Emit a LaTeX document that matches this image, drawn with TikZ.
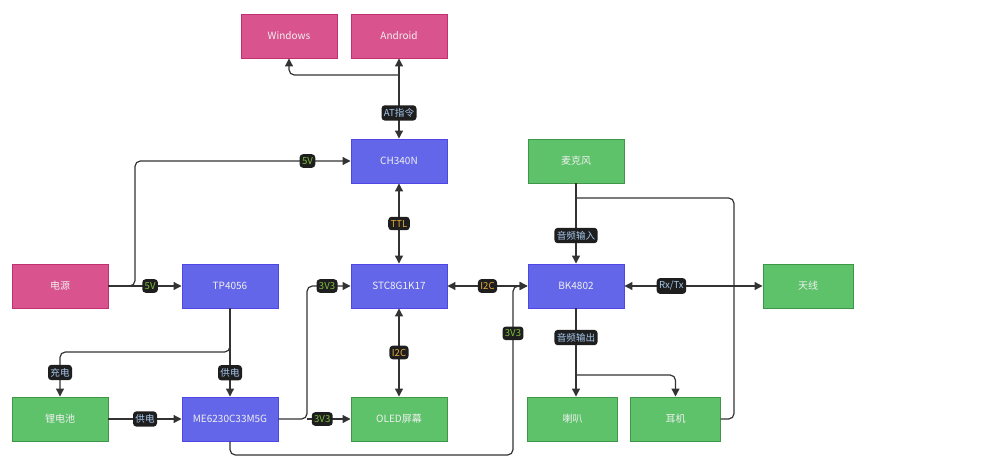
\documentclass[tikz,border=0pt]{standalone}
\usepackage{fontspec}
\setmainfont{Noto Sans CJK SC}
\usepackage{tikz}
\usetikzlibrary{arrows.meta,calc}

\definecolor{pinkfill}{HTML}{D9548F}
\definecolor{pinkline}{HTML}{C2306F}
\definecolor{bluefill}{HTML}{6366E8}
\definecolor{blueline}{HTML}{4F46E5}
\definecolor{greenfill}{HTML}{5DC26A}
\definecolor{greenline}{HTML}{3E9648}
\definecolor{wirecol}{HTML}{333333}
\definecolor{tagfill}{HTML}{1E1E1E}
\definecolor{tagblue}{HTML}{A8C8EE}
\definecolor{taggreen}{HTML}{7FBF3F}
\definecolor{tagyellow}{HTML}{E5A93B}

\begin{document}
\begin{tikzpicture}[x=0.75pt,y=-0.75pt,
    block/.style={draw,line width=0.7pt,minimum width=72pt,minimum height=33pt,
        text=white!94!black,font=\fontsize{7.5}{9}\selectfont,inner sep=0pt},
    pinkbox/.style={block,fill=pinkfill,draw=pinkline},
    bluebox/.style={block,fill=bluefill,draw=blueline},
    greenbox/.style={block,fill=greenfill,draw=greenline},
    narrowbox/.style={minimum width=67pt},
    wire/.style={draw=wirecol,line width=0.9pt,rounded corners=4pt},
    fwd/.style={wire,-{Triangle[length=6pt,width=6pt]}},
    both/.style={wire,{Triangle[length=6pt,width=6pt]}-{Triangle[length=6pt,width=6pt]}},
    tag/.style={fill=tagfill,rounded corners=2.5pt,inner xsep=1.8pt,inner ysep=2.4pt,
        font=\fontsize{7.2}{8}\selectfont,text=tagblue},
    volt/.style={tag,text=taggreen},
    bus/.style={tag,text=tagyellow}]
    \useasboundingbox (0,0) rectangle (999,468);

    % top row
    \node[pinkbox] (win) at (289,36) {Windows};
    \node[pinkbox] (android) at (399,36) {Android};
    \node[bluebox] (ch340) at (399,161) {CH340N};
    \node[greenbox] (mic) at (576,161) {麦克风};
    % middle row
    \node[pinkbox] (power) at (60,286) {电源};
    \node[bluebox] (charger) at (230,286) {TP4056};
    \node[bluebox] (mcu) at (399,286) {STC8G1K17};
    \node[bluebox] (radio) at (576,286) {BK4802};
    \node[greenbox,minimum width=67.5pt] (antenna) at (808,286) {天线};
    % bottom row
    \node[greenbox] (battery) at (60,419) {锂电池};
    \node[bluebox] (ldo) at (230,419) {ME6230C33M5G};
    \node[greenbox] (oled) at (399,419) {OLED屏幕};
    \node[greenbox,narrowbox] (speaker) at (572.5,419) {喇叭};
    \node[greenbox,narrowbox] (earphone) at (675.5,419) {耳机};

    % bends
    \coordinate (atsplit) at (399,75);
    \coordinate (pwrsplit) at (135,286);
    \coordinate (chgturn) at (230,352);
    \coordinate (ldoturn) at (307,419);
    \coordinate (lowrail) at (230,455);
    \coordinate (bkfeed) at (513,286);
    \coordinate (outsplit) at (576,375);
    \coordinate (micjoin) at (576,198);
    \coordinate (earturn) at (734,198);

    \draw[both] (ch340) -- node[tag,pos=0.32] {AT指令} (android);
    \draw[fwd] (atsplit) -| (win.south);
    \draw[fwd] (power.east) -- (pwrsplit) |- node[volt,pos=0.9] {5V} (ch340.west);
    \draw[fwd] (power) -- node[volt,pos=0.57] {5V} (charger);
    \draw[fwd] (charger.south) -- (chgturn) -| node[tag,pos=0.73] {充电} (battery.north);
    \draw[fwd] (charger) -- node[tag,pos=0.73] {供电} (ldo);
    \draw[fwd] (battery) -- node[tag,pos=0.5] {供电} (ldo);
    \draw[fwd] (ldo.east) -- (ldoturn) |- node[volt,pos=0.73] {3V3} (mcu.west);
    \draw[fwd] (ldoturn) -- node[volt,pos=0.35] {3V3} (oled.west);
    \draw[fwd] (ldo.south) -- (lowrail) -| node[volt,pos=0.86] {3V3} (bkfeed) -- (radio.west);
    \draw[both] (mcu) -- node[bus] {TTL} (ch340);
    \draw[both] (mcu) -- node[bus] {I2C} (oled);
    \draw[both] (mcu) -- node[bus] {I2C} (radio);
    \draw[fwd] (mic) -- node[tag,pos=0.65] {音频输入} (radio);
    \draw[fwd] (radio.south) -- node[tag,pos=0.33] {音频输出} (radio.south |- speaker.north);
    \draw[fwd] (outsplit) -| (earphone.north);
    \draw[both] (radio) -- node[tag,pos=0.34] {Rx/Tx} (antenna);
    \draw[wire] (earphone.east) -| (earturn) -- (micjoin);
\end{tikzpicture}
\end{document}
